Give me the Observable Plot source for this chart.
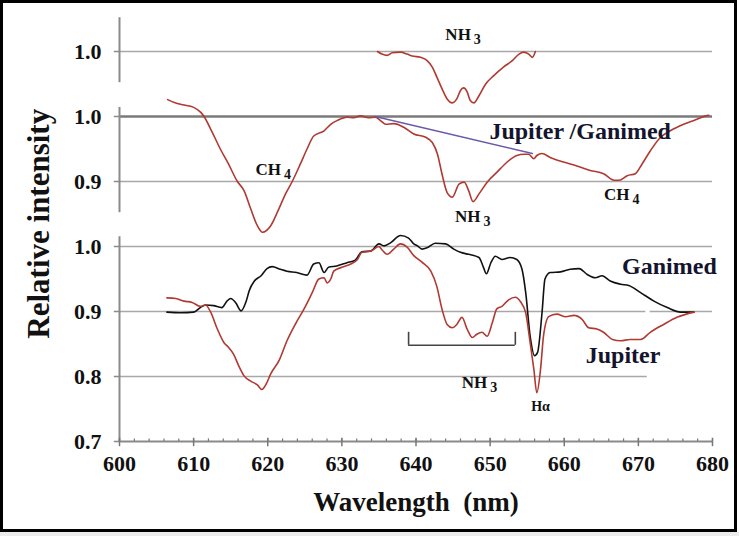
<!DOCTYPE html>
<html>
<head>
<meta charset="utf-8">
<script src="https://cdn.jsdelivr.net/npm/d3@7"></script>
<script src="https://cdn.jsdelivr.net/npm/@observablehq/plot@0.6"></script>
<style>
  html, body { margin: 0; padding: 0; background: #fff; }
  #wrap { position: relative; width: 739px; height: 536px; background: #fff; }
  #wrap svg { display: block; }
  #border { position: absolute; left: 0; top: 0; width: 737px; height: 532px; box-sizing: border-box; border: 3px solid #000; pointer-events: none; }
  #strip { position: absolute; left: 0; top: 532px; width: 739px; height: 4px; background: #ececec; }
</style>
</head>
<body>
<div id="wrap"><div id="border"></div><div id="strip"></div></div>
<script>
// ---- Data (wavelength nm, relative intensity) ----
const ganimed = [[606.4,0.899],[608.2,0.898],[610,0.899],[610.9,0.906],[611.6,0.910],[612.7,0.909],[613.8,0.906],[614.5,0.916],[615,0.920],[615.7,0.913],[616.4,0.901],[617.1,0.916],[617.5,0.932],[618.2,0.947],[619.1,0.955],[619.9,0.966],[620.6,0.969],[621.7,0.965],[622.6,0.962],[623.9,0.960],[625.3,0.956],[626.2,0.973],[626.9,0.975],[627.6,0.960],[628.2,0.968],[629.3,0.970],[630.7,0.975],[631.8,0.979],[632.7,0.992],[633.9,0.993],[635,1.004],[635.7,1.001],[636.6,1.006],[637.9,1.017],[639,1.013],[639.7,1.004],[640.2,1.001],[640.8,0.996],[641.5,0.998],[642.6,1.005],[644,1.004],[645.1,0.996],[646,0.991],[647.1,0.988],[648.5,0.983],[649.1,0.968],[649.5,0.958],[650.1,0.975],[650.7,0.985],[651.6,0.980],[652.7,0.983],[653.6,0.980],[654.3,0.965],[654.8,0.929],[655.4,0.862],[656,0.832],[656.4,0.837],[657,0.898],[657.4,0.950],[658.1,0.960],[659.5,0.961],[660.8,0.965],[662,0.966],[663.1,0.957],[664.2,0.952],[665.1,0.955],[666.2,0.947],[667.6,0.942],[668.7,0.940],[670.3,0.929],[672.1,0.916],[673.9,0.906],[675.7,0.899],[677.5,0.899]];

const jupiter = [[606.4,0.921],[607.6,0.920],[608.7,0.916],[609.8,0.914],[610.9,0.908],[611.6,0.910],[612.3,0.899],[613.2,0.873],[614.1,0.852],[614.7,0.845],[615.4,0.834],[616.1,0.816],[616.8,0.801],[617.7,0.793],[618.6,0.787],[619.2,0.780],[619.9,0.791],[620.4,0.804],[621.5,0.824],[622.6,0.855],[623.7,0.880],[624.9,0.904],[626,0.929],[626.9,0.950],[627.6,0.952],[628,0.944],[628.5,0.950],[628.9,0.962],[630,0.968],[631.2,0.973],[632.1,0.980],[632.7,0.991],[633.9,0.993],[635,1.0],[635.4,0.995],[636.1,0.988],[637,0.996],[637.9,1.004],[638.8,0.999],[639.7,0.986],[640.8,0.976],[642,0.962],[642.8,0.939],[643.5,0.904],[644.2,0.880],[644.9,0.875],[645.5,0.880],[646.2,0.891],[646.9,0.873],[647.6,0.860],[648.2,0.865],[648.9,0.868],[649.6,0.862],[650.3,0.883],[650.9,0.904],[651.6,0.908],[652.5,0.918],[653.4,0.922],[654.1,0.915],[654.8,0.898],[655.4,0.852],[655.9,0.811],[656.3,0.775],[656.8,0.811],[657.2,0.862],[657.9,0.892],[659,0.896],[660.2,0.892],[661.3,0.894],[662.4,0.888],[663.3,0.875],[664.4,0.873],[665.3,0.868],[666.5,0.857],[667.6,0.855],[668.9,0.857],[670.3,0.857],[671.6,0.868],[673.4,0.880],[675.2,0.891],[677.5,0.899]];

const ratio = [[606.5,1.026],[607.5,1.021],[608.5,1.018],[610,1.014],[611,1.006],[611.4,1.0],[612.5,0.976],[613.6,0.95],[614.7,0.927],[615.9,0.90],[616.8,0.886],[617.7,0.858],[618.6,0.832],[619.3,0.822],[620.4,0.832],[621.5,0.858],[622.4,0.881],[623.3,0.90],[624.4,0.927],[625.3,0.95],[626.2,0.970],[627.6,0.978],[628.5,0.988],[629.4,0.994],[630.7,0.999],[631.6,0.998],[632.5,1.001],[633.6,0.998],[634.5,0.999],[635.3,0.993],[635.9,0.988],[637,0.989],[638.4,0.983],[639.7,0.973],[641.3,0.968],[642.2,0.960],[642.9,0.942],[643.5,0.912],[644.2,0.883],[644.9,0.876],[645.8,0.896],[646.5,0.899],[647.1,0.886],[647.7,0.869],[648.5,0.881],[649.6,0.899],[650.9,0.914],[652.3,0.930],[653.6,0.940],[654.6,0.942],[655.2,0.942],[655.9,0.935],[656.3,0.940],[657,0.943],[658.1,0.937],[659.9,0.930],[661.7,0.924],[663.5,0.917],[665.3,0.912],[666.7,0.902],[667.4,0.902],[668.5,0.909],[669.6,0.912],[670.5,0.927],[671.6,0.947],[673,0.968],[674.3,0.978],[676.1,0.988],[677.5,0.994],[679.1,1.001],[679.5,1.002]];

const continuum = [[634.5,1.0],[655.7,0.943]];

const nh3Band = [[634.8,1.0],[635.4,0.996],[636.1,0.994],[636.8,0.998],[637.9,0.999],[638.8,0.996],[639.5,0.993],[640.6,0.991],[641.5,0.986],[642.2,0.976],[642.8,0.961],[643.5,0.943],[644.2,0.927],[644.9,0.921],[645.5,0.927],[646,0.94],[646.4,0.944],[646.9,0.938],[647.3,0.925],[647.8,0.921],[648.5,0.932],[649.4,0.950],[650.5,0.963],[651.8,0.976],[653,0.986],[653.9,0.996],[654.5,0.999],[655.2,0.996],[655.7,0.991],[656.1,1.0]];

// ---- Ticks ----
const xTicks = [600,610,620,630,640,650,660,670,680];
const lowerTicks = [0.7,0.8,0.9,1.0];
const middleTicks = [0.9,1.0];
const topTicks = [1.0];

// panel vertical offsets (layout)
const offMiddle = 0.2, offTop = 0.3;
const r2 = v => Math.round(v * 1000) / 1000;

const yTickAll = [
  ...lowerTicks.map(v => ({pos: r2(v), label: d3.format(".1f")(v)})),
  ...middleTicks.map(v => ({pos: r2(v + offMiddle), label: d3.format(".1f")(v)})),
  ...topTicks.map(v => ({pos: r2(v + offTop), label: d3.format(".1f")(v)}))
];

const toRows = (arr, off) => arr.map(([x, y]) => ({x, y: y + off}));

const grid = [
  {y: 1.0 + offTop, x1: 600, x2: 680},
  {y: 0.9 + offMiddle, x1: 600, x2: 680},
  {y: 1.0, x1: 600, x2: 680},
  {y: 0.9, x1: 600, x2: 671},
  {y: 0.9, x1: 671.6, x2: 680},
  {y: 0.8, x1: 600, x2: 671.2}
];
const axisSegs = [
  {y1: 1.252, y2: 1.352},
  {y1: 1.052, y2: 1.214},
  {y1: 0.7, y2: 1.015}
];

const labels = [
  {x: 647.4, y: 1.326, t: "NH", s: "3"},
  {x: 621.8, y: 1.118, t: "CH", s: "4"},
  {x: 648.7, y: 1.046, t: "NH", s: "3"},
  {x: 668.8, y: 1.08, t: "CH", s: "4"},
  {x: 649.6, y: 0.791, t: "NH", s: "3"}
];
const bigLabels = [
  {x: 649.9, y: 1.1765, t: "Jupiter /Ganimed"},
  {x: 667.8, y: 0.969, t: "Ganimed"},
  {x: 662.9, y: 0.833, t: "Jupiter"}
];
const bracket = {x1: 639, x2: 653.4, y: 0.848, top: 0.868};

const red = "#b03a32";

const chart = Plot.plot({
  width: 739,
  height: 536,
  marginLeft: 119,
  marginRight: 27,
  marginTop: 12,
  marginBottom: 95,
  x: {domain: [600, 680], axis: null},
  y: {domain: [0.7, 1.36], axis: null},
  style: {fontFamily: "Liberation Serif", background: "transparent"},
  marks: [
    // gridlines
    Plot.ruleY(grid, {y: "y", x1: "x1", x2: "x2", stroke: "#a8a8a8", strokeWidth: 1.6}),
    Plot.ruleY([1.0 + offMiddle], {x1: 600, x2: 680, stroke: "#7a7a7a", strokeWidth: 2.4}),
    // y axis segments
    Plot.ruleX(axisSegs, {x: 600, y1: "y1", y2: "y2", stroke: "#8a8a8a", strokeWidth: 2}),
    Plot.ruleY(yTickAll, {y: "pos", x1: 599.3, x2: 600, stroke: "#8a8a8a", strokeWidth: 1.5}),
    Plot.text(yTickAll, {x: 600, y: "pos", text: "label", textAnchor: "end", dx: -18, fontSize: 22, fontWeight: "bold", fill: "#111"}),
    // x axis
    Plot.ruleY([0.7], {x1: 600, x2: 680, stroke: "#8a8a8a", strokeWidth: 2}),
    Plot.ruleX(d3.range(600, 681, 2), {x: d => d, y1: 0.7, y2: 0.704, stroke: "#777", strokeWidth: 1.2}),
    Plot.ruleX(xTicks, {x: d => d, y1: 0.692, y2: 0.705, stroke: "#777", strokeWidth: 1.5}),
    Plot.text(xTicks, {x: d => d, y: 0.7, dy: 22, text: d => String(d), fontSize: 22, fontWeight: "bold", fill: "#111"}),
    // axis titles
    Plot.text(["Wavelength  (nm)"], {frameAnchor: "bottom", dy: 69, fontSize: 27, fontWeight: "bold", fill: "#111"}),
    Plot.text(["Relative intensity"], {x: 589.2, y: 1.035, rotate: -90, fontSize: 31, fontWeight: "bold", fill: "#111"}),
    // curves
    Plot.line(toRows(nh3Band, offTop), {x: "x", y: "y", stroke: red, strokeWidth: 1.6, curve: "monotone-x"}),
    Plot.line(toRows(ratio, offMiddle), {x: "x", y: "y", stroke: red, strokeWidth: 1.6, curve: "monotone-x"}),
    Plot.line(toRows(continuum, offMiddle), {x: "x", y: "y", stroke: "#6b5aa8", strokeWidth: 1.6}),
    Plot.line(toRows(ganimed, 0), {x: "x", y: "y", stroke: "#111", strokeWidth: 1.6, curve: "monotone-x"}),
    Plot.line(toRows(jupiter, 0), {x: "x", y: "y", stroke: red, strokeWidth: 1.6, curve: "monotone-x"}),
    // bracket
    Plot.ruleY([bracket], {y: "y", x1: "x1", x2: "x2", stroke: "#444", strokeWidth: 1.6}),
    Plot.ruleX([bracket.x1, bracket.x2], {x: d => d, y1: bracket.y, y2: bracket.top, stroke: "#444", strokeWidth: 1.6}),
    // annotations
    Plot.text(labels, {x: "x", y: "y", text: "t", textAnchor: "end", fontSize: 17, fontWeight: "bold", fill: "#111"}),
    Plot.text(labels, {x: "x", y: "y", text: "s", textAnchor: "start", dx: 3, dy: 5, fontSize: 14, fontWeight: "bold", fill: "#111"}),
    Plot.text(bigLabels, {x: "x", y: "y", text: "t", textAnchor: "start", fontSize: 24, fontWeight: "bold", fill: "#14142e"}),
    Plot.text(["Hα"], {x: 656.8, y: 0.754, text: d => d, fontSize: 14, fontWeight: "bold", fill: "#111"})
  ]
});
document.getElementById("wrap").prepend(chart);
</script>
</body>
</html>
